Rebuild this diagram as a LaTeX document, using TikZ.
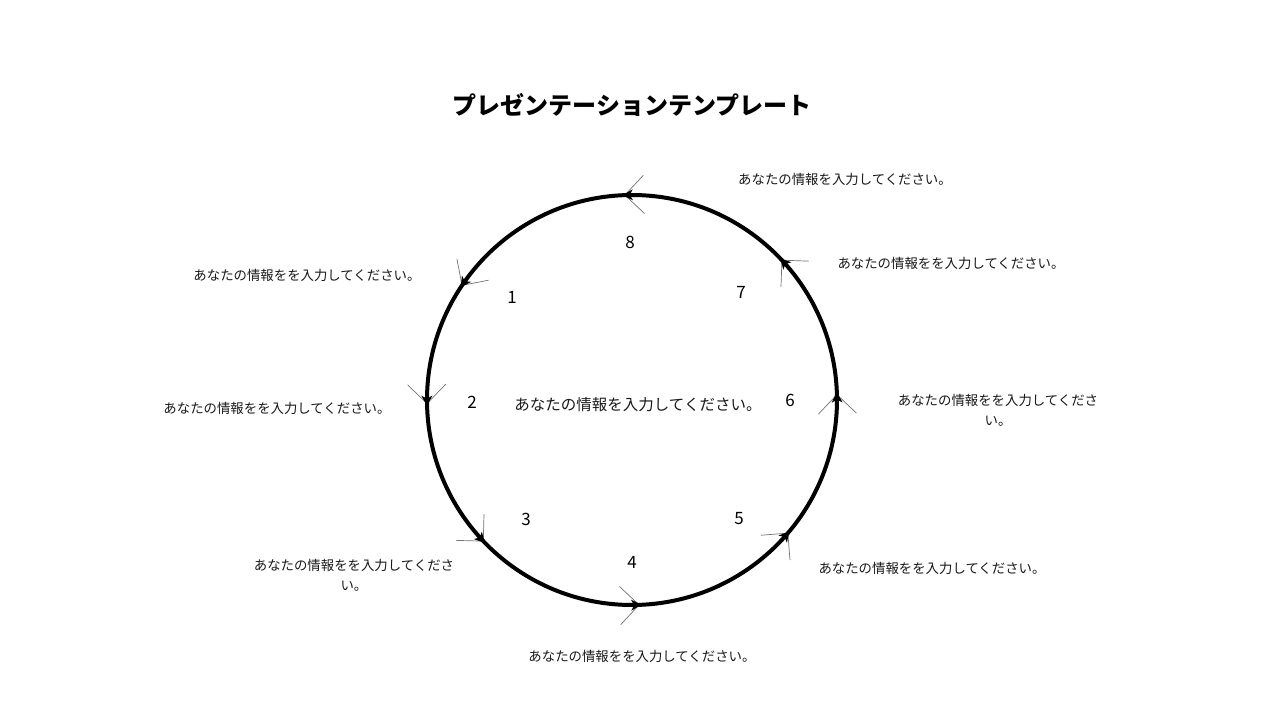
\documentclass[tikz,border=0pt]{standalone}
\usepackage{fontspec}
\setmainfont{Noto Sans CJK JP}
\begin{document}
\begin{tikzpicture}[x=1pt,y=1pt,
  lbl/.style={font=\fontsize{13.4}{20}\selectfont, text=black!90, inner sep=0pt, align=center},
  num/.style={font=\fontsize{17}{20}\selectfont, inner sep=0pt},
  barb/.style={draw=black!55, line width=0.7pt}]
\useasboundingbox (-632,-320) rectangle (648,400);
\fill[white] (-632,-320) rectangle (648,400);
\node (title) at (0,295) {\fontsize{24}{28}\selectfont\bfseries プレゼンテーションテンプレート};
\node[circle, draw, line width=4pt, minimum size=410pt, inner sep=0pt] (ring) at (0,0) {};
\node[lbl, font=\fontsize{15.5}{20}\selectfont] (center) at (6,-5) {あなたの情報を入力してください。};
\foreach \a/\n in {92/m8,146/m1,181/m2,223.5/m3,272/m4,319.5/m5,1.5/m6,43/m7}{
  \coordinate (\n) at (\a:205);
  \begin{scope}[shift={(\n)}, rotate=\a+90]
    \draw[barb] (0,0) -- (135:27);
    \draw[barb] (0,0) -- (-135:27);
    \fill[black] (2.5,0) -- (-8,5.5) -- (-5,0) -- (-8,-5.5) -- cycle;
  \end{scope}
}
\node[num] (n8) at (-2,158) {8};
\node[num] (n1) at (-120,103) {1};
\node[num] (n2) at (-160,-2) {2};
\node[num] (n3) at (-106,-119) {3};
\node[num] (n4) at (0,-162) {4};
\node[num] (n5) at (107,-119) {5};
\node[num] (n6) at (158,0) {6};
\node[num] (n7) at (109,108) {7};
\node[lbl] (t8) at (213,221) {あなたの情報を入力してください。};
\node[lbl] (t7) at (319,137) {あなたの情報をを入力してください。};
\node[lbl] (t1) at (-325,125) {あなたの情報をを入力してください。};
\node[lbl] (t2) at (-355,-8) {あなたの情報をを入力してください。};
\node[lbl] (t6) at (366,-10) {あなたの情報をを入力してくださ\\い。};
\node[lbl] (t5) at (300,-168) {あなたの情報をを入力してください。};
\node[lbl] (t3) at (-278,-175) {あなたの情報をを入力してくださ\\い。};
\node[lbl] (t4) at (10,-256) {あなたの情報をを入力してください。};
\end{tikzpicture}
\end{document}
